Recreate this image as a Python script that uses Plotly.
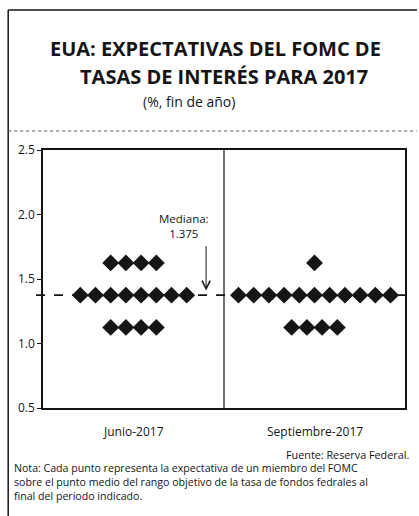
import plotly.graph_objects as go
from collections import Counter

# ---- data ----
categories = ["Junio-2017", "Septiembre-2017"]
junio_values = [1.625, 1.625, 1.625, 1.625,
                1.375, 1.375, 1.375, 1.375, 1.375, 1.375, 1.375, 1.375,
                1.125, 1.125, 1.125, 1.125]
septiembre_values = [1.625,
                     1.375, 1.375, 1.375, 1.375, 1.375, 1.375, 1.375, 1.375, 1.375, 1.375, 1.375,
                     1.125, 1.125, 1.125, 1.125]
median_value = 1.375
y_ticks = [0.5, 1.0, 1.5, 2.0, 2.5]
note_lines = ["Nota: Cada punto representa la expectativa de un miembro del FOMC",
              "sobre el punto medio del rango objetivo de la tasa de fondos fedrales al",
              "final del periodo indicado."]

W, H = 419, 516
L, R, T, B = 43, 12, 150, 108
PW, PH = W - L - R, H - T - B
FONT = "Open Sans"
INK = "#151515"


def px(x):
    return (x - L) / PW


def py(y):
    return (H - B - y) / PH


step = 0.084  # horizontal spacing between dots in category units


def swarm(values, center):
    counts = Counter(values)
    seen = Counter()
    xs = []
    for v in values:
        n = counts[v]
        i = seen[v]
        seen[v] += 1
        xs.append(center + (i - (n - 1) / 2) * step)
    return xs


fig = go.Figure()
for k, vals in enumerate([junio_values, septiembre_values]):
    fig.add_trace(go.Scatter(
        x=swarm(vals, k + 0.5), y=vals, mode="markers",
        marker=dict(symbol="diamond", size=13, color=INK),
        showlegend=False, hoverinfo="y"))

shapes = [
    dict(type="line", xref="paper", yref="y", x0=px(36), x1=1, y0=median_value, y1=median_value,
         line=dict(color=INK, width=1.8, dash="dash")),
    dict(type="line", xref="x", yref="paper", x0=1, x1=1, y0=0, y1=1,
         line=dict(color=INK, width=1.2)),
    dict(type="line", xref="paper", yref="paper", x0=px(8), x1=px(8), y0=py(10), y1=py(516),
         line=dict(color=INK, width=1.5)),
    dict(type="line", xref="paper", yref="paper", x0=px(8), x1=px(419), y0=py(10), y1=py(10),
         line=dict(color=INK, width=1.5)),
    dict(type="line", xref="paper", yref="paper", x0=px(8), x1=px(419), y0=py(131), y1=py(131),
         line=dict(color="#555555", width=1, dash="dot")),
]

annotations = [
    dict(text="<b>EUA: EXPECTATIVAS DEL FOMC DE</b>", x=px(216), y=py(49), xref="paper", yref="paper",
         showarrow=False, font=dict(family=FONT, size=20, color=INK), xanchor="center", yanchor="middle"),
    dict(text="<b>TASAS DE INTERÉS PARA 2017</b>", x=px(225), y=py(77), xref="paper", yref="paper",
         showarrow=False, font=dict(family=FONT, size=20, color=INK), xanchor="center", yanchor="middle"),
    dict(text="(%, fin de año)", x=px(190), y=py(101), xref="paper", yref="paper",
         showarrow=False, font=dict(family=FONT, size=14, color=INK), xanchor="center", yanchor="middle"),
    dict(text="Mediana:<br>1.375", x=px(185), y=py(226), xref="paper", yref="paper",
         showarrow=False, font=dict(family=FONT, size=11.5, color=INK), xanchor="center", yanchor="middle",
         align="center"),
    dict(text="", x=(207 - L) / PW * 2, y=median_value + 0.035, xref="x", yref="y",
         showarrow=True, arrowhead=5, arrowsize=1.6, arrowwidth=1, arrowcolor=INK, ax=0, ay=-46),
    dict(text="Fuente: Reserva Federal.", x=px(413), y=py(455), xref="paper", yref="paper",
         showarrow=False, font=dict(family=FONT, size=10.8, color=INK), xanchor="right", yanchor="middle"),
    dict(text="<br>".join(note_lines), x=px(12), y=py(482), xref="paper", yref="paper",
         showarrow=False, font=dict(family=FONT, size=10.6, color=INK),
         xanchor="left", yanchor="middle", align="left"),
]
for k, c in enumerate(categories):
    annotations.append(dict(text=c, x=k + 0.5, y=py(431), xref="x", yref="paper", showarrow=False,
                            font=dict(family=FONT, size=12, color=INK), xanchor="center", yanchor="middle"))

fig.update_layout(
    width=W, height=H, margin=dict(l=L, r=R, t=T, b=B, pad=0),
    paper_bgcolor="white", plot_bgcolor="white",
    font=dict(family=FONT, color=INK),
    shapes=shapes, annotations=annotations,
    xaxis=dict(range=[0, 2], showticklabels=False, ticks="", showgrid=False, zeroline=False,
               showline=True, linecolor=INK, linewidth=1.5, mirror=True, fixedrange=True),
    yaxis=dict(range=[0.5, 2.5], tickvals=y_ticks, tickformat=".1f", ticks="outside", ticklen=4,
               tickcolor=INK, showgrid=False, zeroline=False, showline=True, linecolor=INK,
               linewidth=1.5, mirror=True, tickfont=dict(family=FONT, size=12, color=INK),
               fixedrange=True),
)
fig.write_html("out.html", config={"displayModeBar": False},
               post_script="document.body.style.margin='0';document.body.style.overflow='hidden';")
